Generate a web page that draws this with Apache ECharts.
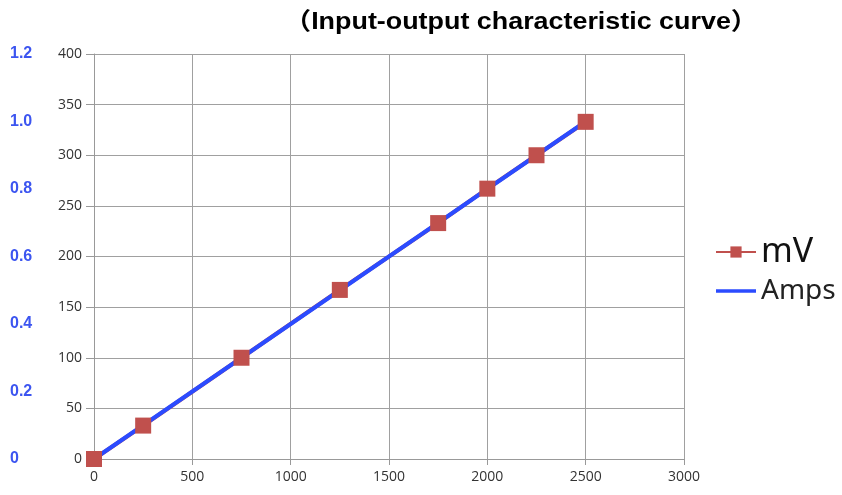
<!DOCTYPE html>
<html>
<head>
<meta charset="utf-8">
<script src="https://cdn.jsdelivr.net/npm/echarts@6/dist/echarts.min.js"></script>
<style>
  html, body { margin: 0; padding: 0; background: #fff; }
  #chart { width: 842px; height: 495px; }
</style>
</head>
<body>
<div id="chart"></div>
<script>
// data
var xInput = [0, 250, 750, 1250, 1750, 2000, 2250, 2500];
var mV = [0, 33, 100, 167, 233, 267, 300, 333];
var amps = [0, 0.1, 0.3, 0.5, 0.7, 0.8, 0.9, 1.0];
var titleText = '（Input-output characteristic curve）';

function pairs(xs, ys) {
    var out = [];
    for (var i = 0; i < xs.length; i++) out.push([xs[i], ys[i]]);
    return out;
}

var dom = document.getElementById('chart');
var myChart = echarts.init(dom);
var option = {
    backgroundColor: '#fff',
    animation: false,
    // title drawn as graphic text so it can be stretched a bit wider
    graphic: [{
        type: 'text',
        x: 521,
        y: 22,
        scaleX: 1.12,
        style: {
            text: titleText,
            fill: '#000',
            fontSize: 24,
            fontWeight: 'bold',
            fontFamily: '"Liberation Sans", "Noto Sans CJK SC", sans-serif',
            align: 'center',
            verticalAlign: 'middle'
        }
    }],
    legend: {
        orient: 'vertical',
        left: 710,
        top: 230,
        itemWidth: 40,
        itemHeight: 14,
        itemGap: 8,
        data: [
            {name: 'mV', textStyle: {fontSize: 34, color: '#111'}},
            {name: 'Amps', icon: 'path://M0,0 L36,0 L36,3 L0,3 Z', textStyle: {fontSize: 28, color: '#222'}}
        ],
        textStyle: {fontFamily: '"Noto Sans", sans-serif'}
    },
    grid: {
        left: 94,
        right: 158,
        top: 54,
        bottom: 36
    },
    xAxis: {
        type: 'value',
        min: 0,
        max: 3000,
        interval: 500,
        axisLine: {show: true, lineStyle: {color: '#999'}},
        axisTick: {show: true, length: 6, lineStyle: {color: '#999'}},
        axisLabel: {
            color: '#333', fontSize: 14, margin: 11, fontFamily: '"Open Sans", sans-serif',
            formatter: function (v) { return String(v); }
        },
        splitLine: {show: true, lineStyle: {color: '#a0a0a0', width: 1}}
    },
    yAxis: [
        {
            type: 'value',
            min: 0,
            max: 400,
            interval: 50,
            axisLine: {show: true, lineStyle: {color: '#999'}},
            axisTick: {show: true, length: 8, lineStyle: {color: '#999'}},
            axisLabel: {color: '#333', fontSize: 14, margin: 12, fontFamily: '"Open Sans", sans-serif'},
            splitLine: {show: true, lineStyle: {color: '#a0a0a0', width: 1}}
        },
        {
            type: 'value',
            position: 'left',
            offset: 84,
            min: 0,
            max: 1.2,
            interval: 0.2,
            axisLine: {show: false},
            axisTick: {show: false},
            splitLine: {show: false},
            axisLabel: {
                align: 'left',
                margin: 0,
                color: '#3c55f0',
                fontSize: 16,
                fontWeight: 'bold',
                fontFamily: '"Liberation Sans", sans-serif',
                formatter: function (v) {
                    return v === 0 ? '0' : v.toFixed(1);
                }
            }
        }
    ],
    series: [
        {
            name: 'mV',
            type: 'line',
            yAxisIndex: 0,
            data: pairs(xInput, mV),
            symbol: 'rect',
            symbolSize: 16,
            color: '#c0504d',
            lineStyle: {color: '#c0504d', width: 4},
            itemStyle: {color: '#c0504d'}
        },
        {
            name: 'Amps',
            type: 'line',
            yAxisIndex: 1,
            data: pairs(xInput, amps),
            symbol: 'none',
            color: '#2b4bff',
            lineStyle: {color: '#2b4bff', width: 4}
        }
    ]
};
myChart.setOption(option);
</script>
</body>
</html>
